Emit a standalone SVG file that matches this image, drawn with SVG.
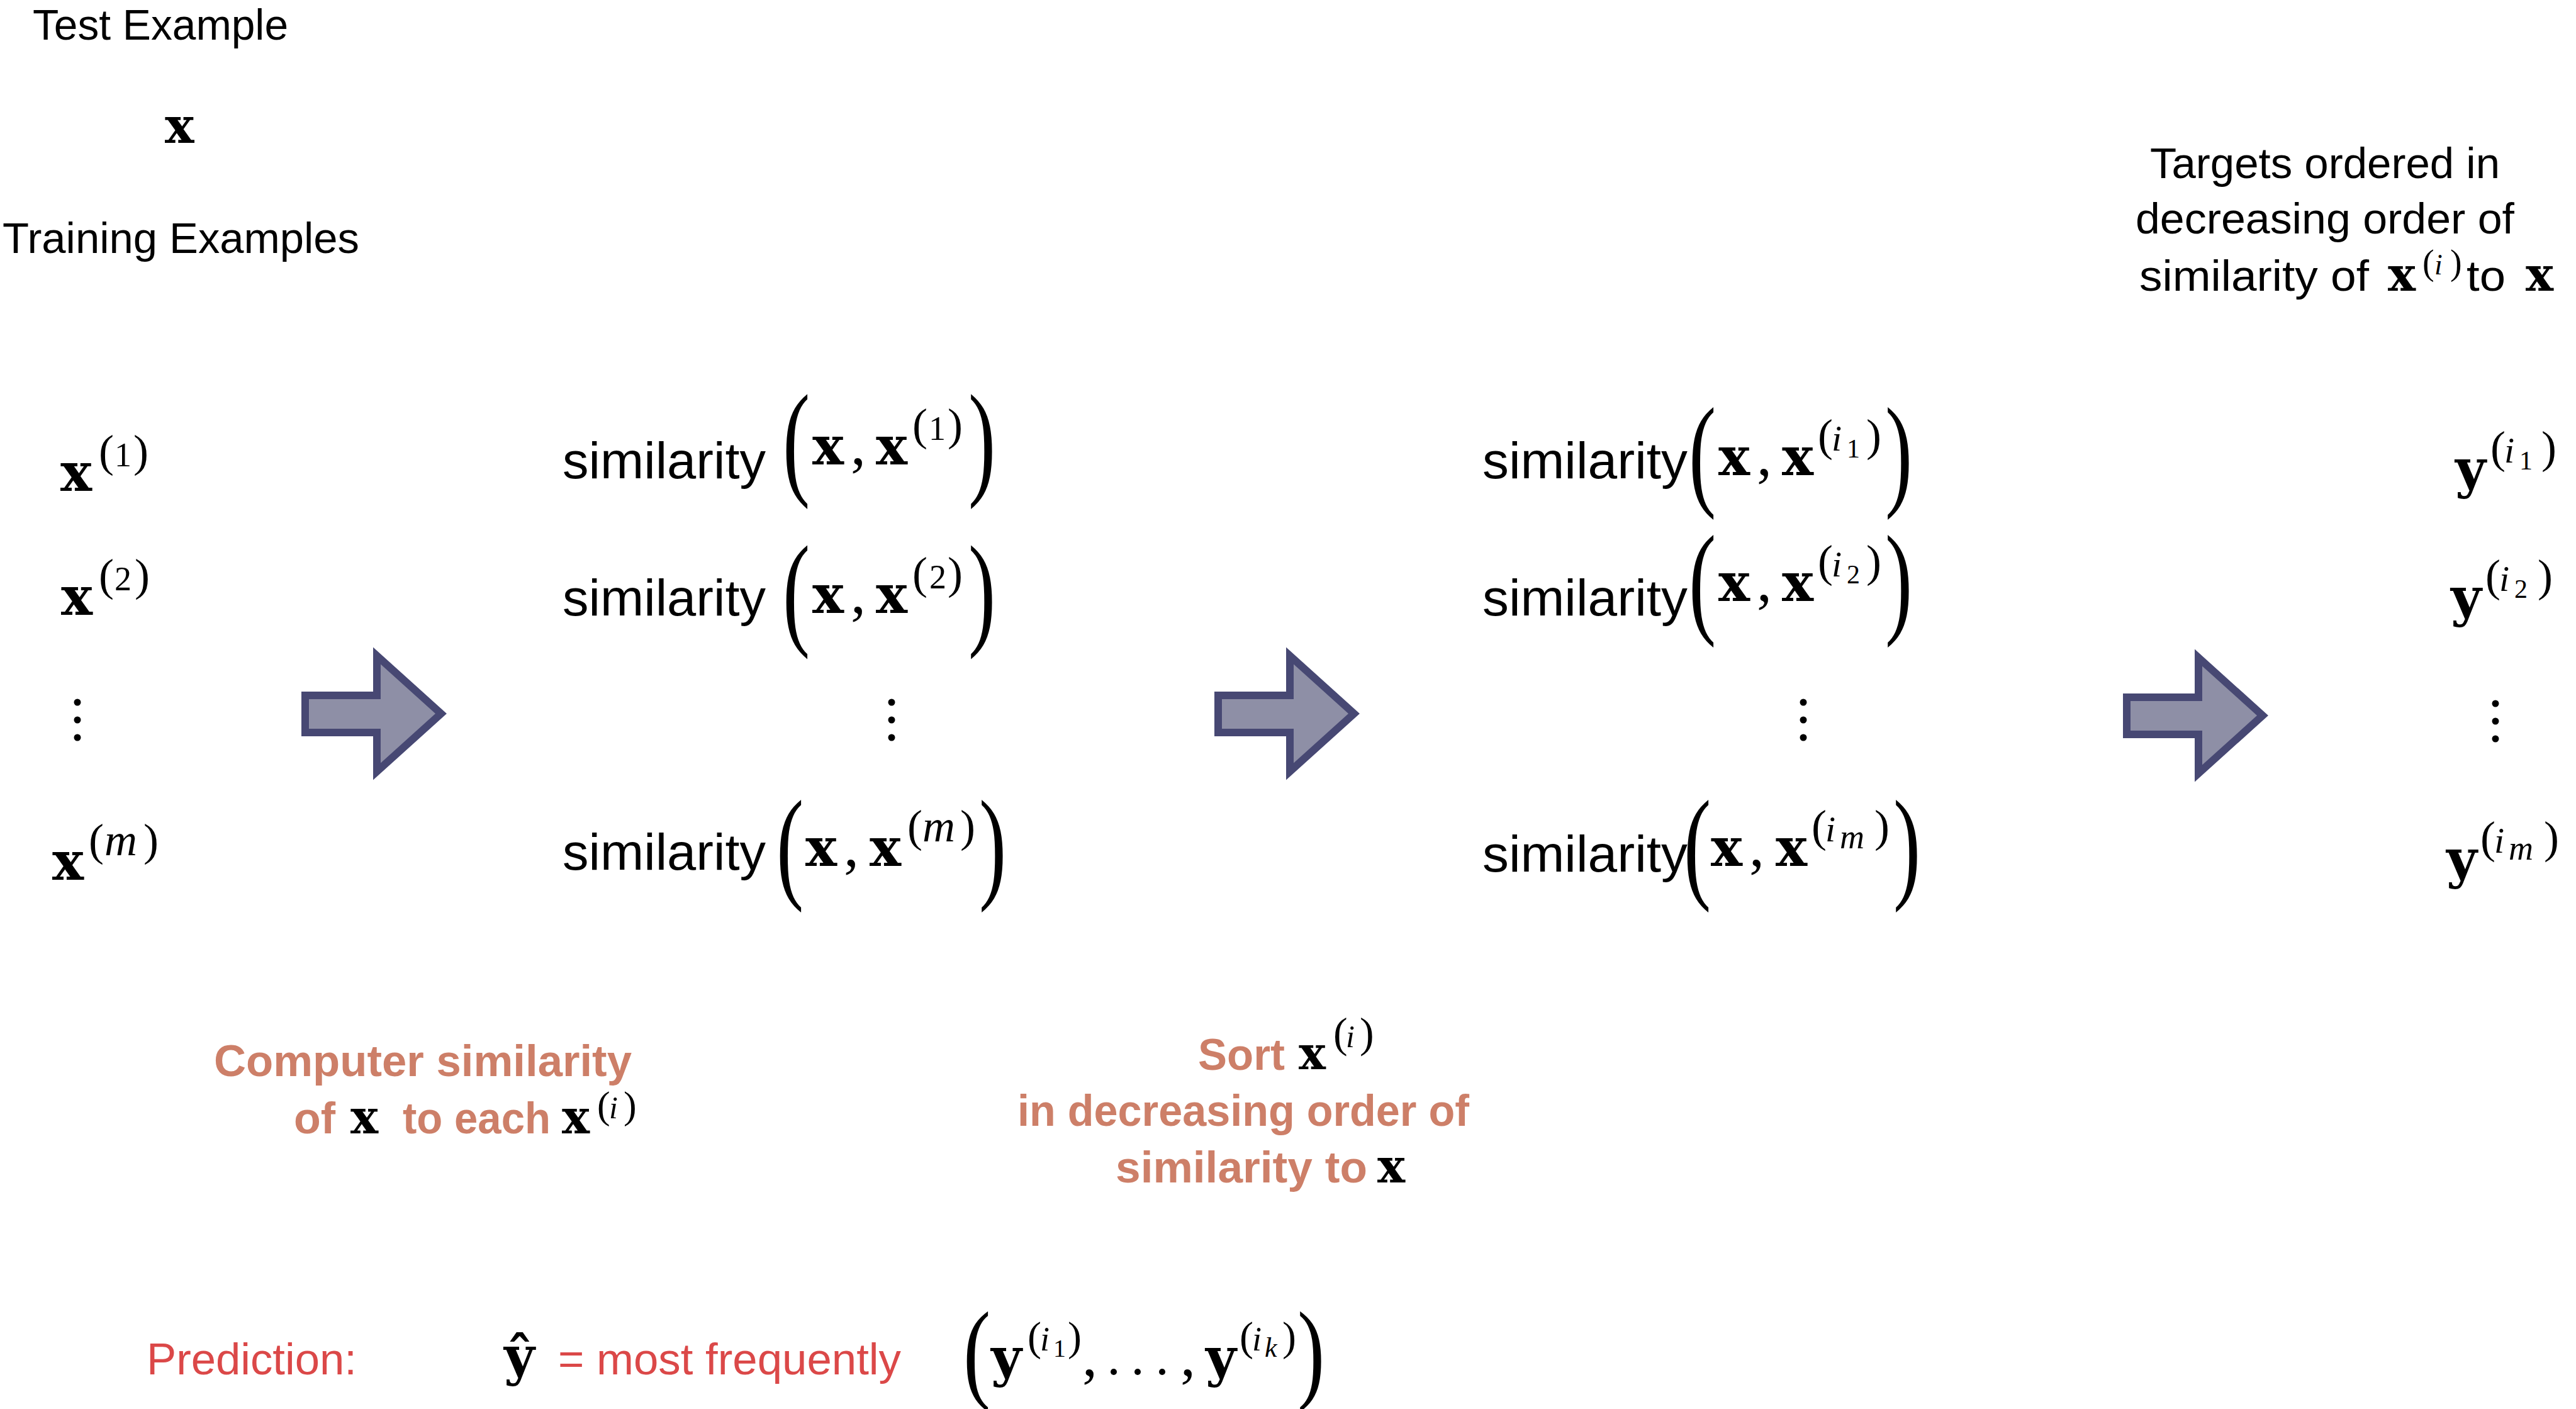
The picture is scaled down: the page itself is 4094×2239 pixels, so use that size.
<svg xmlns="http://www.w3.org/2000/svg" width="4094" height="2239" viewBox="0 0 4094 2239">
<style>
.lbl{font-family:"Liberation Sans",Arial,sans-serif;font-size:68px;fill:#000}
.ann{font-family:"Liberation Sans",Arial,sans-serif;font-weight:bold;font-size:70px;fill:#CD7F68}
.pred{font-family:"Liberation Sans",Arial,sans-serif;font-size:70px;fill:#DB4848}
.bx{font-family:"DejaVu Serif",serif;font-weight:bold;font-size:84px;fill:#000}
.bxs{font-family:"DejaVu Serif",serif;font-weight:bold;font-size:74px;fill:#000}
.sp{font-family:"Liberation Serif",serif;font-size:72px;fill:#000}
.sd{font-family:"Liberation Serif",serif;font-size:54px;fill:#000}
.si{font-family:"Liberation Serif",serif;font-style:italic;font-size:58px;fill:#000}
.sm{font-family:"Liberation Serif",serif;font-style:italic;font-size:72px;fill:#000}
.ss{font-family:"Liberation Serif",serif;font-size:42px;fill:#000}
.ssi{font-family:"Liberation Serif",serif;font-style:italic;font-size:54px;fill:#000}
.cm{font-family:"Liberation Serif",serif;font-size:96px;fill:#000}
.bp{font-family:"Liberation Serif",serif;font-size:130px;fill:#000}
.dot{fill:#000}
.arrow{fill:#8E8FA6;stroke:#474873;stroke-width:12;stroke-linejoin:miter}
</style>
<defs>
<polygon id="bigArrow" class="arrow" points="485,1105 599,1105 599,1042 701,1134 599,1226 599,1164 485,1164"/>
</defs>

<g id="test-example">
<text class="lbl" x="52" y="63" textLength="406" lengthAdjust="spacingAndGlyphs">Test Example</text>
<text class="bx" x="262" y="227" style="font-size:78px">x</text>
</g>

<g id="training-examples">
<text class="lbl" x="4" y="402" textLength="567" lengthAdjust="spacingAndGlyphs">Training Examples</text>
<text><tspan class="bx" x="96" y="780">x</tspan><tspan class="sp" x="157" y="741">(</tspan><tspan class="sd" x="182" y="741">1</tspan><tspan class="sp" x="212" y="741">)</tspan></text>
<text><tspan class="bx" x="97" y="977">x</tspan><tspan class="sp" x="157" y="938">(</tspan><tspan class="sd" x="182" y="938">2</tspan><tspan class="sp" x="214" y="938">)</tspan></text>
<circle class="dot" cx="123" cy="1116" r="5.5"/><circle class="dot" cx="123" cy="1144" r="5.5"/><circle class="dot" cx="123" cy="1172" r="5.5"/>
<text><tspan class="bx" x="83" y="1398">x</tspan><tspan class="sp" x="141" y="1359">(</tspan><tspan class="sm" x="166" y="1359">m</tspan><tspan class="sp" x="228" y="1359">)</tspan></text>
</g>

<g id="similarities">
<text class="lbl" x="894" y="760" style="font-size:82px" textLength="323" lengthAdjust="spacingAndGlyphs">similarity</text>
<text class="bp" transform="translate(1244,766) scale(1,1.545)">(</text>
<text><tspan class="bx" x="1291" y="738">x</tspan><tspan class="cm" x="1352" y="738">,</tspan><tspan class="bx" x="1392" y="738">x</tspan><tspan class="sp" x="1450" y="699">(</tspan><tspan class="sd" x="1476" y="699">1</tspan><tspan class="sp" x="1506" y="699">)</tspan></text>
<text class="bp" transform="translate(1539,766) scale(1,1.545)">)</text>

<text class="lbl" x="894" y="978" style="font-size:82px" textLength="323" lengthAdjust="spacingAndGlyphs">similarity</text>
<text class="bp" transform="translate(1244,1005) scale(1,1.53)">(</text>
<text><tspan class="bx" x="1291" y="974">x</tspan><tspan class="cm" x="1352" y="974">,</tspan><tspan class="bx" x="1392" y="974">x</tspan><tspan class="sp" x="1450" y="935">(</tspan><tspan class="sd" x="1477" y="935">2</tspan><tspan class="sp" x="1506" y="935">)</tspan></text>
<text class="bp" transform="translate(1539,1005) scale(1,1.53)">)</text>

<circle class="dot" cx="1417" cy="1116" r="5.5"/><circle class="dot" cx="1417" cy="1144" r="5.5"/><circle class="dot" cx="1417" cy="1172" r="5.5"/>

<text class="lbl" x="894" y="1382" style="font-size:82px" textLength="323" lengthAdjust="spacingAndGlyphs">similarity</text>
<text class="bp" transform="translate(1234,1408) scale(1,1.51)">(</text>
<text><tspan class="bx" x="1280" y="1376">x</tspan><tspan class="cm" x="1341" y="1376">,</tspan><tspan class="bx" x="1382" y="1376">x</tspan><tspan class="sp" x="1442" y="1337">(</tspan><tspan class="sm" x="1466" y="1337">m</tspan><tspan class="sp" x="1526" y="1337">)</tspan></text>
<text class="bp" transform="translate(1556,1408) scale(1,1.51)">)</text>
</g>

<g id="sorted-similarities">
<text class="lbl" x="2356" y="760" style="font-size:82px" textLength="326" lengthAdjust="spacingAndGlyphs">similarity</text>
<text class="bp" transform="translate(2684,784) scale(1,1.52)">(</text>
<text><tspan class="bx" x="2731" y="755">x</tspan><tspan class="cm" x="2792" y="755">,</tspan><tspan class="bx" x="2832" y="755">x</tspan><tspan class="sp" x="2889" y="716">(</tspan><tspan class="si" x="2911" y="716">i</tspan><tspan class="ss" x="2935" y="727">1</tspan><tspan class="sp" x="2966" y="716">)</tspan></text>
<text class="bp" transform="translate(2996,784) scale(1,1.52)">)</text>

<text class="lbl" x="2356" y="978" style="font-size:82px" textLength="326" lengthAdjust="spacingAndGlyphs">similarity</text>
<text class="bp" transform="translate(2684,987) scale(1,1.52)">(</text>
<text><tspan class="bx" x="2731" y="955">x</tspan><tspan class="cm" x="2792" y="955">,</tspan><tspan class="bx" x="2832" y="955">x</tspan><tspan class="sp" x="2889" y="916">(</tspan><tspan class="si" x="2911" y="916">i</tspan><tspan class="ss" x="2935" y="927">2</tspan><tspan class="sp" x="2966" y="916">)</tspan></text>
<text class="bp" transform="translate(2996,987) scale(1,1.52)">)</text>

<circle class="dot" cx="2866" cy="1116" r="5.5"/><circle class="dot" cx="2866" cy="1144" r="5.5"/><circle class="dot" cx="2866" cy="1172" r="5.5"/>

<text class="lbl" x="2356" y="1385" style="font-size:82px" textLength="326" lengthAdjust="spacingAndGlyphs">similarity</text>
<text class="bp" transform="translate(2676,1408) scale(1,1.51)">(</text>
<text><tspan class="bx" x="2719" y="1376">x</tspan><tspan class="cm" x="2780" y="1376">,</tspan><tspan class="bx" x="2822" y="1376">x</tspan><tspan class="sp" x="2879" y="1337">(</tspan><tspan class="si" x="2901" y="1337">i</tspan><tspan class="ssi" x="2924" y="1348">m</tspan><tspan class="sp" x="2979" y="1337">)</tspan></text>
<text class="bp" transform="translate(3009,1408) scale(1,1.51)">)</text>
</g>

<g id="targets">
<text class="lbl" x="3417" y="283" textLength="556" lengthAdjust="spacingAndGlyphs">Targets ordered in</text>
<text class="lbl" x="3394" y="371" textLength="602" lengthAdjust="spacingAndGlyphs">decreasing order of</text>
<text class="lbl" x="3400" y="462" textLength="365" lengthAdjust="spacingAndGlyphs">similarity of</text>
<text><tspan class="bxs" x="3795" y="462">x</tspan><tspan class="sp" x="3850" y="436" style="font-size:56px">(</tspan><tspan class="si" x="3869" y="436" style="font-size:46px">i</tspan><tspan class="sp" x="3894" y="436" style="font-size:56px">)</tspan></text>
<text class="lbl" x="3920" y="462" textLength="62" lengthAdjust="spacingAndGlyphs">to</text>
<text class="bxs" x="4014" y="462">x</text>

<text><tspan class="bx" x="3902" y="774">y</tspan><tspan class="sp" x="3958" y="735">(</tspan><tspan class="si" x="3980" y="735">i</tspan><tspan class="ss" x="4004" y="746">1</tspan><tspan class="sp" x="4039" y="735">)</tspan></text>
<text><tspan class="bx" x="3895" y="978">y</tspan><tspan class="sp" x="3950" y="939">(</tspan><tspan class="si" x="3972" y="939">i</tspan><tspan class="ss" x="3996" y="950">2</tspan><tspan class="sp" x="4033" y="939">)</tspan></text>
<circle class="dot" cx="3966" cy="1118" r="5.5"/><circle class="dot" cx="3966" cy="1146" r="5.5"/><circle class="dot" cx="3966" cy="1174" r="5.5"/>
<text><tspan class="bx" x="3888" y="1394">y</tspan><tspan class="sp" x="3942" y="1355">(</tspan><tspan class="si" x="3964" y="1355">i</tspan><tspan class="ssi" x="3987" y="1366">m</tspan><tspan class="sp" x="4043" y="1355">)</tspan></text>
</g>

<g id="connectors">
<use href="#bigArrow"/>
<use href="#bigArrow" transform="translate(1451,0)"/>
<use href="#bigArrow" transform="translate(2895,3)"/>
</g>

<g id="step1-label">
<text class="ann" x="340" y="1710" textLength="664" lengthAdjust="spacingAndGlyphs">Computer similarity</text>
<text class="ann" x="467" y="1801">of</text>
<text class="bxs" x="557" y="1801">x</text>
<text class="ann" x="640" y="1801" textLength="235" lengthAdjust="spacingAndGlyphs">to each</text>
<text><tspan class="bxs" x="893" y="1801">x</tspan><tspan class="sp" x="949" y="1777" style="font-size:62px">(</tspan><tspan class="si" x="968" y="1777" style="font-size:50px">i</tspan><tspan class="sp" x="991" y="1777" style="font-size:62px">)</tspan></text>
</g>

<g id="step2-label">
<text class="ann" x="1904" y="1700" textLength="138" lengthAdjust="spacingAndGlyphs">Sort</text>
<text><tspan class="bxs" x="2064" y="1699" style="font-size:72px">x</tspan><tspan class="sp" x="2119" y="1664" style="font-size:68px">(</tspan><tspan class="si" x="2139" y="1664" style="font-size:50px">i</tspan><tspan class="sp" x="2161" y="1664" style="font-size:68px">)</tspan></text>
<text class="ann" x="1617" y="1789" textLength="718" lengthAdjust="spacingAndGlyphs">in decreasing order of</text>
<text class="ann" x="1773" y="1879" textLength="400" lengthAdjust="spacingAndGlyphs">similarity to</text>
<text class="bxs" x="2189" y="1879">x</text>
</g>

<g id="prediction">
<text class="pred" x="233" y="2184" textLength="334" lengthAdjust="spacingAndGlyphs">Prediction:</text>
<text class="bx" x="801" y="2184">ŷ</text>
<text class="pred" x="887" y="2184" textLength="545" lengthAdjust="spacingAndGlyphs">= most frequently</text>
<text class="bp" transform="translate(1531,2206) scale(1,1.36)">(</text>
<text><tspan class="bx" x="1575" y="2186">y</tspan><tspan class="sp" x="1633" y="2146" style="font-size:66px">(</tspan><tspan class="si" x="1653" y="2146" style="font-size:54px">i</tspan><tspan class="ss" x="1674" y="2156" style="font-size:40px">1</tspan><tspan class="sp" x="1697" y="2146" style="font-size:66px">)</tspan><tspan class="cm" x="1720" y="2186">,</tspan></text>
<circle class="dot" cx="1770" cy="2180" r="5"/><circle class="dot" cx="1808" cy="2180" r="5"/><circle class="dot" cx="1847" cy="2180" r="5"/>
<text><tspan class="cm" x="1876" y="2186">,</tspan><tspan class="bx" x="1916" y="2186">y</tspan><tspan class="sp" x="1970" y="2146" style="font-size:66px">(</tspan><tspan class="si" x="1990" y="2146" style="font-size:54px">i</tspan><tspan class="ssi" x="2010" y="2156" style="font-size:44px">k</tspan><tspan class="sp" x="2038" y="2146" style="font-size:66px">)</tspan></text>
<text class="bp" transform="translate(2062,2206) scale(1,1.36)">)</text>
</g>
</svg>
